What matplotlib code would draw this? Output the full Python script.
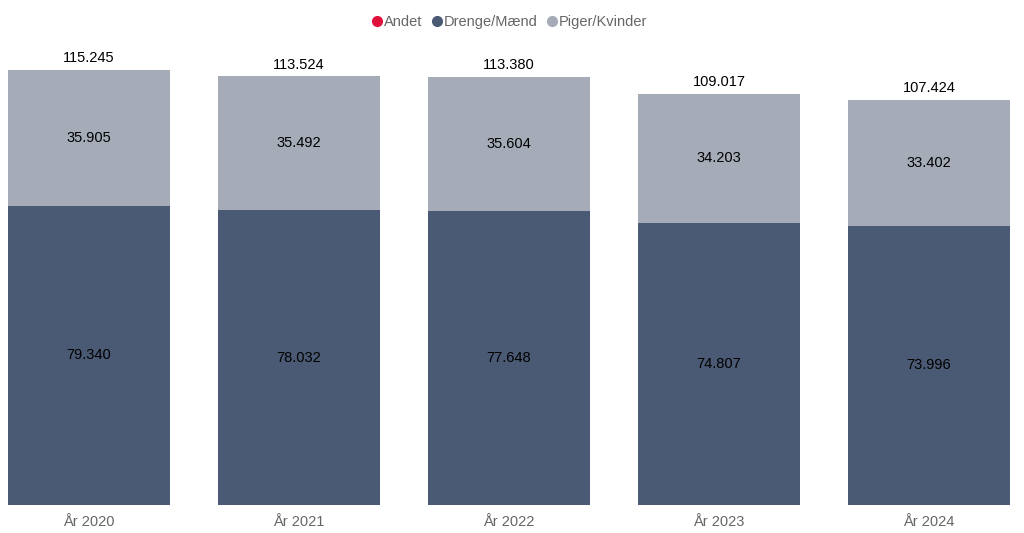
import numpy as np
import matplotlib.pyplot as plt
from matplotlib.lines import Line2D

plt.rcParams['font.family'] = ['Liberation Sans', 'DejaVu Sans']

years = ['År 2020', 'År 2021', 'År 2022', 'År 2023', 'År 2024']
andet = [0, 0, 128, 7, 26]
drenge = [79340, 78032, 77648, 74807, 73996]
piger = [35905, 35492, 35604, 34203, 33402]

c_andet = '#E0123C'
c_drenge = '#4A5A74'
c_piger = '#A5ACB8'


def fmt(v):
    return '{:,}'.format(v).replace(',', '.')


fig = plt.figure(figsize=(10.24, 5.33), dpi=100)
ax = fig.add_axes([0, 1 - 505 / 533, 1, (505 - 33) / 533])

x = np.arange(len(years))
w = 0.771
andet = np.array(andet)
drenge = np.array(drenge)
piger = np.array(piger)
total = andet + drenge + piger

ax.bar(x, andet, w, color=c_andet)
ax.bar(x, drenge, w, bottom=andet, color=c_drenge)
ax.bar(x, piger, w, bottom=andet + drenge, color=c_piger)

## segment labels + totals
for i in range(len(years)):
    ax.text(x[i], andet[i] + drenge[i] / 2, fmt(drenge[i]), ha='center', va='center',
            fontsize=10.5, color='black')
    ax.text(x[i], andet[i] + drenge[i] + piger[i] / 2, fmt(piger[i]), ha='center',
            va='center', fontsize=10.5, color='black')
    ax.text(x[i], total[i] + 1300, fmt(total[i]), ha='center', va='bottom',
            fontsize=10.5, color='black')

ax.set_xlim(-89 / 210, (1024 - 89) / 210)
ax.set_ylim(0, 115245 * 472 / 435)
ax.set_xticks(x)
ax.set_xticklabels(years, fontsize=10.5, color='#666666')
ax.tick_params(axis='x', length=0, pad=7)
ax.set_yticks([])
for s in ax.spines.values():
    s.set_visible(False)

## legend with round markers
handles = [Line2D([], [], marker='o', ls='', color=c, markersize=7)
           for c in (c_andet, c_drenge, c_piger)]
fig.legend(handles, ['Andet', 'Drenge/Mænd', 'Piger/Kvinder'], loc='center',
           bbox_to_anchor=(510 / 1024, 1 - 22 / 533), ncol=3, frameon=False,
           fontsize=10.5, handlelength=0.6, handletextpad=0.15, columnspacing=0.7,
           labelcolor='#666666')

fig.savefig('out.png', dpi=100)
